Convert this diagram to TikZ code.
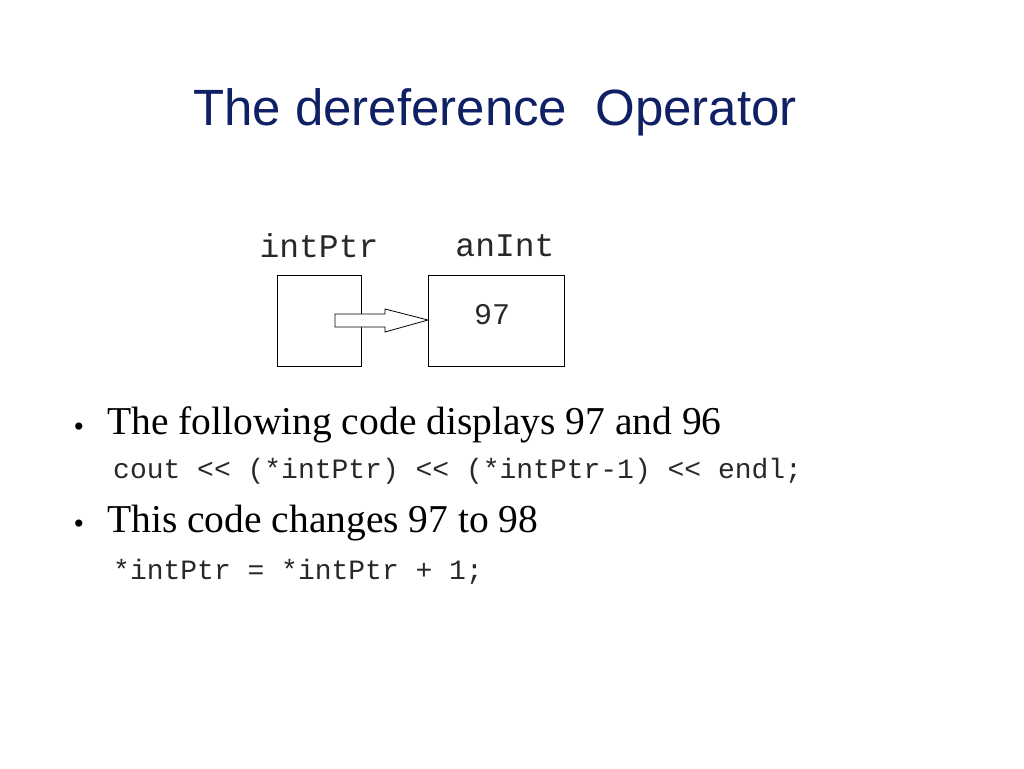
\documentclass[tikz,border=0pt]{standalone}
\usepackage{fontspec}
\setmainfont{Liberation Serif}
\newfontfamily\titlefont{Liberation Sans}
\newfontfamily\codefont{Liberation Mono}
\definecolor{titleblue}{RGB}{16,32,100}
\definecolor{codegray}{RGB}{40,40,40}
\begin{document}
\begin{tikzpicture}[x=1pt,y=-1pt,
  box/.style={draw,line width=0.8pt},
  lbl/.style={font=\codefont\fontsize{33}{35}\selectfont,text=codegray},
  code/.style={anchor=west,font=\codefont\fontsize{28}{30}\selectfont,text=codegray,inner sep=0},
  bul/.style={anchor=west,font=\fontsize{39.5}{42}\selectfont,inner sep=0}]
\useasboundingbox (0,0) rectangle (1024,768);
\node[font=\titlefont\fontsize{51}{55}\selectfont,text=titleblue] (title) at (495,112) {The dereference\ \ Operator};
\draw[box] (277,275) rectangle (361,366);
\draw[box] (428,275) rectangle (564,366);
\node[lbl] (ptrl) at (319,246) {intPtr};
\node[lbl] (intl) at (505,246) {anInt};
\node[lbl,font=\codefont\fontsize{30}{32}\selectfont] (v) at (492,315) {97};
\draw[line width=0.8pt,fill=white] (335,314) -- (385,314) -- (385,309) -- (428,320) -- (385,332) -- (385,327) -- (335,327) -- cycle;
\node[font=\fontsize{30}{32}\selectfont] (b1) at (79,430) {\textbullet};
\node[bul] (t1) at (107,425) {The following code displays 97 and 96};
\node[code] (c1) at (113,471) {cout << (*intPtr) << (*intPtr-1) << endl;};
\node[font=\fontsize{30}{32}\selectfont] (b2) at (79,527) {\textbullet};
\node[bul] (t2) at (107,523) {This code changes 97 to 98};
\node[code] (c2) at (113,572) {*intPtr = *intPtr + 1;};
\end{tikzpicture}
\end{document}
